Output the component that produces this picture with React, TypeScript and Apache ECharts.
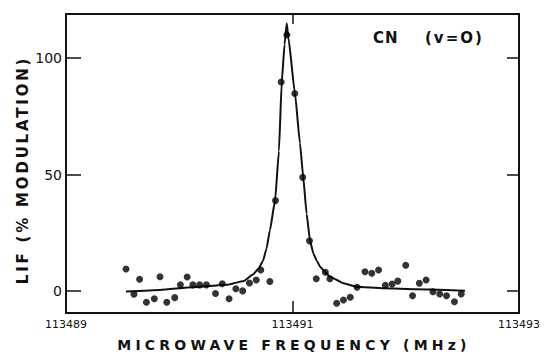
import React, { useEffect, useRef } from "react";
import * as echarts from "echarts";

// x tick labels (MHz) and y tick values (% modulation)
const xTickLabels = [113489, 113491, 113493];
const xInnerTick = 113491;
const yTickValues = [0, 50, 100];

// measured LIF points
const pointFreq = [
  113489.53, 113489.6, 113489.65, 113489.71, 113489.78, 113489.83, 113489.89, 113489.96,
  113490.01, 113490.07, 113490.12, 113490.18, 113490.24, 113490.32, 113490.38, 113490.44,
  113490.5, 113490.56, 113490.62, 113490.68, 113490.72, 113490.8, 113490.85, 113490.9,
  113490.95, 113491.02, 113491.09, 113491.15, 113491.21, 113491.29, 113491.33, 113491.39,
  113491.45, 113491.51, 113491.57, 113491.64, 113491.7, 113491.76, 113491.82, 113491.88,
  113491.93, 113492.0, 113492.06, 113492.12, 113492.18, 113492.24, 113492.3, 113492.36,
  113492.43, 113492.49,
];
const pointLIF = [
  9.4, -1.4, 5.0, -4.9, -3.4, 6.1, -4.9, -2.9,
  2.6, 6.0, 2.6, 2.6, 2.6, -1.1, 3.1, -3.4,
  0.9, 0.0, 3.4, 4.7, 9.0, 4.0, 38.8, 89.8,
  110, 84.8, 48.8, 21.5, 5.2, 8.0, 5.2, -5.3,
  -3.9, -2.7, 1.6, 8.2, 7.6, 9.0, 2.4, 3.0,
  4.2, 11.0, -2.1, 3.3, 4.7, -0.4, -1.3, -2.1,
  -4.7, -1.3,
];

// fitted line shape
const fitFreq = [
  113489.53, 113489.83, 113490.12, 113490.42, 113490.57, 113490.65, 113490.7, 113490.74,
  113490.77, 113490.8, 113490.846, 113490.88, 113490.905, 113490.93, 113490.949, 113490.963,
  113491.022, 113491.066, 113491.095, 113491.125, 113491.155, 113491.185, 113491.214,
  113491.243, 113491.29, 113491.331, 113491.449, 113491.567, 113491.802, 113492.097,
  113492.362, 113492.523,
];
const fitLIF = [
  -0.3, 0.4, 1.6, 2.6, 4.3, 7.0, 9.5, 13,
  18, 26, 38.8, 60, 89.8, 106, 115, 109,
  84.8, 63.4, 48.8, 33, 21.5, 16, 13.0,
  10.4, 8.0, 6.1, 3.3, 1.8, 1.1, 0.7,
  0.4, 0.1,
];

const INK = "#111";

export default function App() {
  const ref = useRef<HTMLDivElement>(null);
  useEffect(() => {
    if (!ref.current) return;
    const chart = echarts.init(ref.current, undefined, { renderer: "svg" });
    const xMin = 113489;
    const xMax = 113493;
    const yMin = -9.5;
    const yMax = 119;
    // inner tick length along y, in data units (about 12 px / 10 px)
    const bottomTickLen = 5.2;
    const topTickLen = 4.3;
    chart.setOption({
      animation: false,
      backgroundColor: "#fff",
      grid: { left: 66, right: 35, top: 14, bottom: 39 },
      xAxis: [
        {
          type: "value",
          min: xMin,
          max: xMax,
          position: "bottom",
          axisLine: { show: true, onZero: false, lineStyle: { color: INK, width: 2 } },
          splitLine: { show: false },
          axisTick: { show: false },
          axisLabel: {
            customValues: xTickLabels,
            showMinLabel: true,
            showMaxLabel: true,
            formatter: (v: number) => String(v),
            fontFamily: "DejaVu Sans",
            fontSize: 11,
            color: INK,
            margin: 6,
          },
        },
        {
          type: "value",
          min: xMin,
          max: xMax,
          position: "top",
          axisLine: { show: true, onZero: false, lineStyle: { color: INK, width: 2 } },
          splitLine: { show: false },
          axisTick: { show: false },
          axisLabel: { show: false },
        },
      ],
      yAxis: [
        {
          type: "value",
          min: yMin,
          max: yMax,
          position: "left",
          axisLine: { show: true, onZero: false, lineStyle: { color: INK, width: 2 } },
          splitLine: { show: false },
          axisTick: {
            show: true,
            inside: true,
            length: 15,
            customValues: yTickValues,
            lineStyle: { color: INK, width: 1.5 },
          },
          axisLabel: {
            customValues: yTickValues,
            showMinLabel: true,
            showMaxLabel: true,
            fontFamily: "DejaVu Sans",
            fontSize: 14,
            color: INK,
            margin: 4,
          },
        },
        {
          type: "value",
          min: yMin,
          max: yMax,
          position: "right",
          axisLine: { show: true, onZero: false, lineStyle: { color: INK, width: 2 } },
          splitLine: { show: false },
          axisTick: {
            show: true,
            inside: true,
            length: 12,
            customValues: yTickValues,
            lineStyle: { color: INK, width: 1.5 },
          },
          axisLabel: { show: false },
        },
      ],
      series: [
        {
          type: "line",
          xAxisIndex: 0,
          yAxisIndex: 0,
          data: fitFreq.map((f, i) => [f, fitLIF[i]]),
          showSymbol: false,
          symbol: "none",
          smooth: 0.15,
          smoothMonotone: "x",
          lineStyle: { color: INK, width: 2 },
          z: 2,
          markLine: {
            silent: true,
            symbol: ["none", "none"],
            label: { show: false },
            lineStyle: { color: INK, width: 1.5, type: "solid" },
            data: [
              [
                { coord: [xInnerTick, yMin] },
                { coord: [xInnerTick, yMin + bottomTickLen] },
              ],
              [
                { coord: [xInnerTick, yMax] },
                { coord: [xInnerTick, yMax - topTickLen] },
              ],
            ],
          },
        },
        {
          type: "scatter",
          xAxisIndex: 0,
          yAxisIndex: 0,
          data: pointFreq.map((f, i) => [f, pointLIF[i]]),
          symbol: "circle",
          symbolSize: 7,
          itemStyle: { color: "#000" },
          z: 3,
        },
      ],
      graphic: [
        {
          type: "text",
          x: 373,
          y: 38,
          style: {
            text: "CN",
            font: 'bold 15px "DejaVu Sans"',
            fill: INK,
            align: "left",
            verticalAlign: "middle",
          },
        },
        {
          type: "text",
          x: 425,
          y: 38,
          style: {
            text: "(v=O)",
            font: 'bold 15px "DejaVu Sans"',
            fill: INK,
            align: "left",
            verticalAlign: "middle",
          },
        },
        {
          type: "text",
          x: 294,
          y: 345,
          style: {
            text: "MICROWAVE FREQUENCY (MHz)",
            font: 'bold 14px "DejaVu Sans"',
            fill: INK,
            align: "center",
            verticalAlign: "middle",
          },
        },
        {
          type: "text",
          x: 22.5,
          y: 170,
          rotation: Math.PI / 2,
          style: {
            text: "LIF (% MODULATION)",
            font: 'bold 15px "DejaVu Sans"',
            fill: INK,
            align: "center",
            verticalAlign: "middle",
          },
        },
      ],
    });

    const spacing: Record<string, string> = {
      "MICROWAVE FREQUENCY (MHz)": "4.2",
      "LIF (% MODULATION)": "2.8",
      "CN": "1",
      "(v=O)": "2",
    };
    const applySpacing = () => {
      if (!ref.current) return;
      ref.current.querySelectorAll("text").forEach((t) => {
        const s = spacing[(t.textContent || "").trim()];
        if (s) t.setAttribute("letter-spacing", s);
      });
    };
    applySpacing();
    const raf = requestAnimationFrame(applySpacing);
    chart.on("finished", applySpacing);

    return () => {
      cancelAnimationFrame(raf);
      chart.dispose();
    };
  }, []);

  return (
    <div
      ref={ref}
      style={{ position: "fixed", left: 0, top: 0, width: 554, height: 352 }}
    />
  );
}
